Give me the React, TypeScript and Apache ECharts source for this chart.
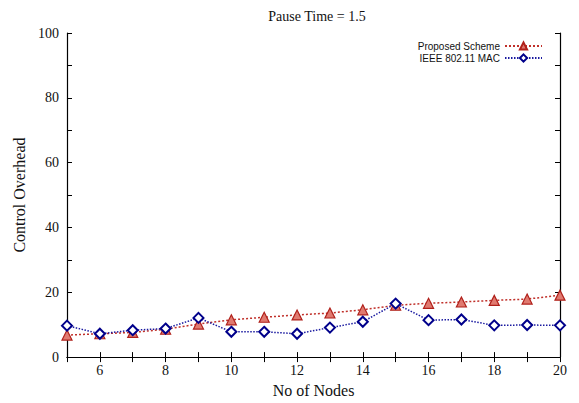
import React, { useEffect, useRef } from "react";
import * as echarts from "echarts";

const nodes = [5, 6, 7, 8, 9, 10, 11, 12, 13, 14, 15, 16, 17, 18, 19, 20];
const proposed = [6.8, 7.2, 7.6, 8.6, 10.2, 11.5, 12.3, 13.0, 13.6, 14.6, 16.0, 16.6, 17.0, 17.5, 17.9, 19.1];
const ieee = [9.7, 7.2, 8.3, 8.8, 12.1, 7.8, 7.8, 7.2, 9.1, 10.9, 16.5, 11.4, 11.6, 9.8, 9.9, 9.8];
const seriesNames = ["Proposed Scheme", "IEEE 802.11 MAC"];
const titleText = "Pause Time = 1.5";
const xName = "No of Nodes";
const yName = "Control Overhead";

const SERIF = "'Liberation Serif', 'Times New Roman', serif";
const SANS = "'Liberation Sans', Arial, sans-serif";

export default function App() {
  const ref = useRef<HTMLDivElement>(null);
  useEffect(() => {
    if (!ref.current) return;
    const chart = echarts.init(ref.current, null, { renderer: "svg", width: 579, height: 403 });
    const axisLine = { show: true, lineStyle: { color: "#000", width: 1.2 } };
    const tickStyle = { show: true, inside: true, length: 5, lineStyle: { color: "#000", width: 1 } };
    chart.setOption({
      animation: false,
      backgroundColor: "#fff",
      title: {
        text: titleText,
        left: 312,
        textAlign: "center",
        top: 4,
        textStyle: { fontFamily: SERIF, fontSize: 14, fontWeight: "normal", color: "#111" },
      },
      legend: {
        orient: "vertical",
        right: 31,
        top: 36,
        align: "right",
        itemWidth: 37,
        itemHeight: 9,
        itemGap: 2,
        textStyle: { fontFamily: SANS, fontSize: 10, color: "#111" },
        data: seriesNames,
      },
      grid: { left: 67, right: 19, top: 33, bottom: 38 },
      xAxis: [
        {
          type: "value",
          min: 5,
          max: 20,
          interval: 1,
          name: xName,
          nameLocation: "middle",
          nameGap: 18,
          nameTextStyle: { fontFamily: SERIF, fontSize: 16, color: "#111" },
          axisLine,
          axisTick: tickStyle,
          splitLine: { show: false },
          axisLabel: {
            fontFamily: SERIF,
            fontSize: 14,
            color: "#111",
            margin: 6,
            formatter: (v: number) => (v % 2 === 0 ? String(v) : ""),
          },
        },
        {
          type: "value",
          position: "top",
          min: 5,
          max: 20,
          interval: 1,
          axisLine,
          axisTick: tickStyle,
          axisLabel: { show: false },
          splitLine: { show: false },
        },
      ],
      yAxis: [
        {
          type: "value",
          min: 0,
          max: 100,
          interval: 10,
          name: yName,
          nameLocation: "middle",
          nameGap: 38,
          nameTextStyle: { fontFamily: SERIF, fontSize: 16, color: "#111" },
          axisLine,
          axisTick: tickStyle,
          splitLine: { show: false },
          axisLabel: {
            fontFamily: SERIF,
            fontSize: 14,
            color: "#111",
            margin: 8,
            formatter: (v: number) => (v % 20 === 0 ? String(v) : ""),
          },
        },
        {
          type: "value",
          position: "right",
          min: 0,
          max: 100,
          interval: 10,
          axisLine,
          axisTick: tickStyle,
          axisLabel: { show: false },
          splitLine: { show: false },
        },
      ],
      series: [
        {
          name: seriesNames[0],
          type: "line",
          data: nodes.map((n, i) => [n, proposed[i]]),
          symbol: "triangle",
          symbolSize: 10,
          lineStyle: { color: "#c0302a", width: 1.5, type: [2, 2] },
          itemStyle: { color: "#e07a70", borderColor: "#b0201a", borderWidth: 1.2 },
          z: 2,
        },
        {
          name: seriesNames[1],
          type: "line",
          data: nodes.map((n, i) => [n, ieee[i]]),
          symbol: "diamond",
          symbolSize: 10,
          lineStyle: { color: "#1a1aa0", width: 1.5, type: [1.5, 1.5] },
          itemStyle: { color: "#ffffff", borderColor: "#00008b", borderWidth: 2 },
          z: 3,
        },
      ],
    });
    return () => chart.dispose();
  }, []);
  return (
    <div
      ref={ref}
      style={{ position: "fixed", left: 0, top: 0, width: 579, height: 403 }}
    />
  );
}
